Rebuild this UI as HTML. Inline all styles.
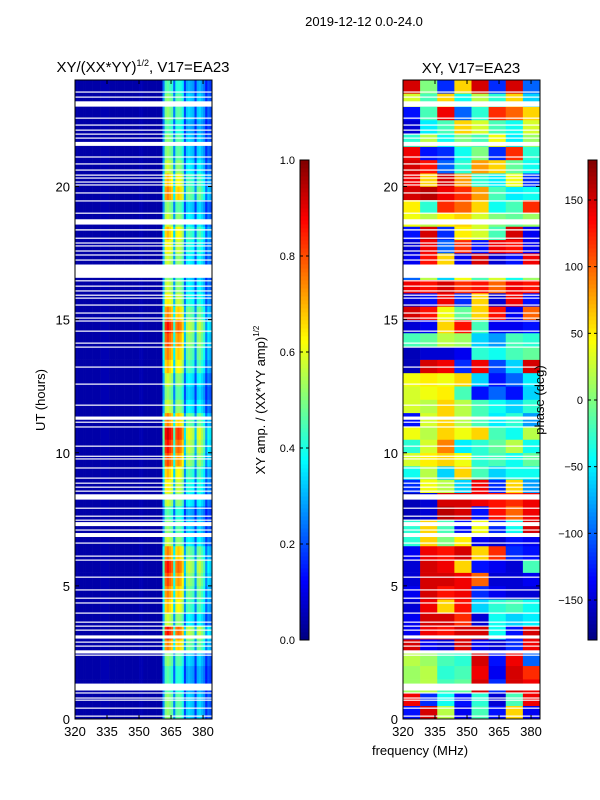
<!DOCTYPE html>
<html><head><meta charset="utf-8">
<style>
body{margin:0;background:#fff;}
svg{display:block;font-family:"Liberation Sans","DejaVu Sans",sans-serif;}
</style></head>
<body>
<svg id="fig" width="600" height="800" viewBox="0 0 600 800">
<text x="364" y="26" font-size="13" text-anchor="middle">2019-12-12 0.0-24.0</text>
<text x="143" y="72" font-size="15" text-anchor="middle">XY/(XX*YY)<tspan font-size="9" dy="-6">1/2</tspan><tspan dy="6">, V17=EA23</tspan></text>
<text x="471" y="73" font-size="15" text-anchor="middle">XY, V17=EA23</text>
<text x="420" y="755" font-size="13" text-anchor="middle">frequency (MHz)</text>
<text transform="translate(45,400) rotate(-90)" font-size="13" text-anchor="middle">UT (hours)</text>
<text transform="translate(265,400) rotate(-90)" font-size="13" text-anchor="middle">XY amp. / (XX*YY amp)<tspan font-size="8" dy="-6">1/2</tspan></text>
<g id="left"></g>
<g id="right"></g>
<g id="cb1"></g>
<g id="cb2"></g>
<text transform="translate(544,400) rotate(-90)" font-size="13" text-anchor="middle">phase (deg)</text>
</svg>
<script>
// ---- data ----
const xTicks = [320, 335, 350, 365, 380];
const yTicks = [0, 5, 10, 15, 20];
const ampTicks = [0.0, 0.2, 0.4, 0.6, 0.8, 1.0];
const phaseTicks = [150, 100, 50, 0, -50, -100, -150];
// amplitude frequency profile, 1 MHz bins 320..383
const freqProfile = [
0.04,0.04,0.04,0.04,0.04,0.04,0.04,0.04,0.04,0.04,
0.04,0.04,0.05,0.05,0.05,0.05,0.04,0.04,0.04,0.04,
0.04,0.04,0.04,0.04,0.04,0.04,0.04,0.04,0.04,0.04,
0.05,0.05,0.04,0.04,0.04,0.04,0.04,0.04,0.04,0.04,
0.04,0.3,0.55,0.58,0.55,0.52,0.28,0.5,0.52,0.5,
0.45,0.22,0.36,0.38,0.36,0.34,0.2,0.36,0.38,0.34,
0.3,0.18,0.25,0.22];
// amplitude time gain, 0.5 h bins from 0 to 24 h
const timeGain = [0.9,0.9,0.8,0.8,0.9,1.3,1.5,1.0,1.2,1.3,1.4,1.5,1.3,1.0,0.9,0.8,
1.0,1.1,1.2,1.4,1.5,1.6,1.3,1.0,0.9,1.0,1.2,1.3,1.4,1.5,1.3,1.1,
1.0,0.9,1.0,1.1,1.2,1.0,0.9,1.3,1.2,1.0,0.9,0.9,0.8,0.9,0.9,0.8];
// phase grid: rows = 0.5 h bins from 0 h upward, cols = 8 frequency bands
const phaseGrid = [
[-130,150,20,-140,-20,-130,60,-140],
[140,-120,-40,-130,-30,-150,-20,140],
[10,20,-20,-10,150,-120,150,140],
[10,20,-30,-20,140,-140,150,120],
[20,10,-20,-30,150,-130,140,-100],
[150,-140,-150,150,-140,-150,-120,140],
[-140,140,130,150,150,-40,-130,150],
[-140,150,150,120,-150,-40,-60,-50],
[-150,140,60,130,-60,-30,-20,-40],
[-140,150,130,140,-120,-140,-150,-150],
[-150,150,150,140,100,-150,-150,-140],
[-150,150,140,60,-130,-140,-150,-20],
[-140,140,130,150,60,120,-120,-130],
[-30,60,0,50,-140,-150,-130,-140],
[-30,60,-20,-130,40,-120,-40,150],
[-160,-150,160,150,-130,130,100,140],
[-160,-150,150,150,140,130,120,140],
[-120,40,20,-60,140,-120,60,-80],
[-40,20,-60,60,-20,-60,-40,-40],
[30,50,60,40,-30,-20,-40,-10],
[-30,30,90,-50,-30,-10,20,-40],
[40,20,60,40,60,-20,-40,20],
[-130,30,60,20,-20,-50,-30,-80],
[30,20,60,20,-20,-40,-60,-30],
[30,40,50,-20,-130,-100,-130,-60],
[40,50,40,60,-60,-130,-100,-50],
[-160,150,140,-120,140,-110,-60,150],
[-160,-150,-150,-140,-30,-40,-20,-10],
[-20,-10,20,10,-60,-80,-20,-30],
[-150,-140,60,130,-20,-140,-140,-130],
[150,130,40,-10,60,130,-140,100],
[-150,-130,140,-120,60,-150,140,-130],
[140,130,150,120,130,100,140,130],
[-100,20,-60,40,-20,30,-40,10],
[-140,130,60,-140,150,-150,-130,140],
[-150,140,-100,120,-130,140,130,-140],
[-130,150,-120,50,30,-20,150,-140],
[40,20,50,60,30,0,-10,10],
[50,-30,120,100,60,-40,-20,120],
[150,160,140,120,80,-20,-50,-40],
[140,60,150,80,-30,-50,40,-120],
[150,130,-100,-30,80,60,-10,-40],
[140,-130,-120,-40,0,-120,120,-30],
[-30,20,-40,0,-20,40,-50,10],
[-150,-50,-20,60,30,-20,-40,30],
[-130,-20,140,-100,-30,120,100,60],
[30,-20,60,-40,20,-30,60,-60],
[150,0,-120,60,150,-120,150,-100]];
// flagged (blank) time rows: centre hour, thickness in hours
const gapHours = [23.55,23.36,23.1,22.57,22.31,22.12,21.97,21.82,21.6,21.11,20.85,20.62,20.43,20.32,20.17,20.06,19.76,19.46,19.0,18.67,18.37,18.06,17.88,17.77,17.58,17.43,17.24,16.82,16.46,16.26,16.08,15.92,15.81,15.55,15.25,15.06,14.95,14.57,14.12,13.97,13.22,12.58,11.79,11.3,11.15,10.97,10.25,9.87,9.77,9.43,9.05,8.86,8.71,8.56,8.34,7.92,7.62,7.47,7.32,7.1,6.91,6.61,6.12,5.97,5.33,4.85,4.54,4.36,3.98,3.64,3.49,3.34,3.08,2.89,2.74,2.52,2.4,1.2,0.98,0.79,0.71,0.41,0.11];
const gapWidths = [0.04,0.04,0.2,0.04,0.04,0.04,0.04,0.04,0.15,0.04,0.04,0.04,0.04,0.04,0.04,0.04,0.04,0.04,0.04,0.2,0.05,0.04,0.04,0.04,0.04,0.04,0.04,0.5,0.04,0.04,0.04,0.04,0.04,0.04,0.04,0.04,0.04,0.04,0.04,0.04,0.04,0.04,0.04,0.12,0.04,0.04,0.04,0.04,0.04,0.04,0.04,0.04,0.04,0.04,0.2,0.04,0.04,0.04,0.15,0.04,0.15,0.04,0.04,0.04,0.04,0.04,0.04,0.04,0.04,0.04,0.04,0.04,0.12,0.04,0.04,0.12,0.04,0.26,0.04,0.04,0.04,0.04,0.04];

// ---- geometry ----
const NS = 'http://www.w3.org/2000/svg';
const FMIN = 320, FMAX = 384.2, TMIN = 0, TMAX = 24;
const TOP = 80, BOT = 719;
const panels = {left: 75, right: 403};
const PW = 137;
function xs(f, x0){ return x0 + (f - FMIN) / (FMAX - FMIN) * PW; }
function ys(h){ return BOT - (h - TMIN) / (TMAX - TMIN) * (BOT - TOP); }
function jet(v){
  v = Math.max(0, Math.min(1, v));
  const r = Math.max(0, Math.min(1, 1.5 - Math.abs(4*v - 3)));
  const g = Math.max(0, Math.min(1, 1.5 - Math.abs(4*v - 2)));
  const b = Math.max(0, Math.min(1, 1.5 - Math.abs(4*v - 1)));
  return `rgb(${Math.round(r*255)},${Math.round(g*255)},${Math.round(b*255)})`;
}
function mk(tag, attrs, parent){
  const e = document.createElementNS(NS, tag);
  for (const k in attrs) e.setAttribute(k, attrs[k]);
  parent.appendChild(e); return e;
}

function drawAxes(g, x0, name){
  mk('rect', {x:x0, y:TOP, width:PW, height:BOT-TOP, fill:'none', stroke:'#000', 'stroke-width':1}, g);
  xTicks.forEach(t => {
    const x = xs(t, x0);
    mk('line', {x1:x, x2:x, y1:BOT, y2:BOT-4, stroke:'#000'}, g);
    mk('line', {x1:x, x2:x, y1:TOP, y2:TOP+4, stroke:'#000'}, g);
    const tx = mk('text', {x:x, y:BOT+17, 'font-size':13, 'text-anchor':'middle'}, g);
    tx.textContent = t;
    
    
  });
  yTicks.forEach(t => {
    const y = ys(t);
    mk('line', {x1:x0, x2:x0+4, y1:y, y2:y, stroke:'#000'}, g);
    mk('line', {x1:x0+PW, x2:x0+PW-4, y1:y, y2:y, stroke:'#000'}, g);
    const tx = mk('text', {x:x0-5, y:y+5, 'font-size':13, 'text-anchor':'end'}, g);
    tx.textContent = t;
    
    
  });
}
function drawGaps(g, x0){
  gapHours.forEach((h, i) => {
    const w = gapWidths[i];
    const y1 = ys(h + w/2), y2 = ys(h - w/2);
    const r = mk('rect', {x:x0, y:y1, width:PW, height:Math.max(1.2, y2-y1), fill:'#fff'}, g);
    
    
  });
}

// left amplitude heatmap
const gl = document.getElementById('left');
const nT = timeGain.length, dT = (TMAX-TMIN)/nT;
timeGain.forEach((gain, ti) => {
  freqProfile.forEach((p, fi) => {
    const f0 = FMIN + fi, f1 = Math.min(FMAX, FMIN + fi + 1);
    const v = p < 0.1 ? p : p * gain;
    const y1 = ys(TMIN + (ti+1)*dT), y2 = ys(TMIN + ti*dT);
    const r = mk('rect', {x:xs(f0, panels.left), y:y1, width:xs(f1,panels.left)-xs(f0,panels.left)+0.3, height:y2-y1+0.3, fill:jet(v)}, gl);
    
    
  });
});
drawGaps(gl, panels.left);
drawAxes(gl, panels.left, 'left');

// right phase heatmap
const gr = document.getElementById('right');
const nP = phaseGrid.length, dP = (TMAX-TMIN)/nP;
phaseGrid.forEach((row, ti) => {
  const nC = row.length, df = (FMAX-FMIN)/nC;
  row.forEach((ph, ci) => {
    const f0 = FMIN + ci*df, f1 = FMIN + (ci+1)*df;
    const y1 = ys(TMIN + (ti+1)*dP), y2 = ys(TMIN + ti*dP);
    const r = mk('rect', {x:xs(f0,panels.right), y:y1, width:xs(f1,panels.right)-xs(f0,panels.right)+0.3, height:y2-y1+0.3, fill:jet((ph+180)/360)}, gr);
    
    
  });
});
drawGaps(gr, panels.right);
drawAxes(gr, panels.right, 'right');

// colorbars
function colorbar(id, x0, vmin, vmax, ticks, fmt){
  const g = document.getElementById(id);
  const cT = 160, cB = 640, w = 9, n = 120;
  for (let i = 0; i < n; i++){
    const v = (i+0.5)/n;
    mk('rect', {x:x0, y:cB-(i+1)*(cB-cT)/n, width:w, height:(cB-cT)/n+0.4, fill:jet(v)}, g);
  }
  mk('rect', {x:x0, y:cT, width:w, height:cB-cT, fill:'none', stroke:'#000'}, g);
  ticks.forEach(t => {
    const y = cB - (t - vmin)/(vmax - vmin)*(cB-cT);
    mk('line', {x1:x0, x2:x0+3, y1:y, y2:y, stroke:'#000'}, g);
    mk('line', {x1:x0+w, x2:x0+w-3, y1:y, y2:y, stroke:'#000'}, g);
    const tx = mk('text', {x:x0-5, y:y+4, 'font-size':11, 'text-anchor':'end'}, g);
    tx.textContent = fmt(t);
    
    
  });
}
colorbar('cb1', 300, 0, 1, ampTicks, t => t.toFixed(1));
colorbar('cb2', 588, -180, 180, phaseTicks, t => String(t).replace('-', '\u2212'));
</script>
</body></html>
